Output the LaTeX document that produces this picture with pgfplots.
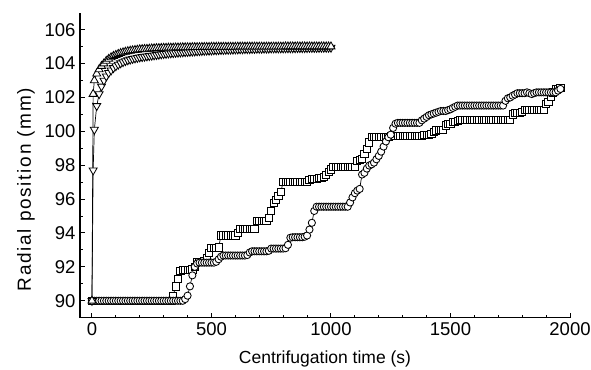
\documentclass[border=0pt]{standalone}
\usepackage{fontspec}
\setmainfont{Liberation Sans}
\newfontfamily\ylabfont[LetterSpace=9]{Liberation Sans}
\usepackage{pgfplots}
\pgfplotsset{compat=1.18}
\begin{document}
\begin{tikzpicture}
\begin{axis}[
  name=ax,
  scale only axis, width=490pt, height=305pt,
  xmin=-50, xmax=2000, ymin=89, ymax=107,
  axis x line*=bottom, axis y line*=left,
  axis line style={line width=1.3pt, -},
  tick align=inside, major tick length=5pt, minor tick length=3pt,
  xtick={0,500,1000,1500,2000}, minor x tick num=4,
  ytick={90,92,...,106}, minor y tick num=1,
  every tick/.style={black, line width=1pt},
  tick label style={font=\fontsize{18.5}{21}\selectfont},
  yticklabel style={xshift=-1pt},
  xticklabel style={yshift=-1pt},
  /pgf/number format/assume math mode=true,
  /pgf/number format/set thousands separator={},
  xlabel={Centrifugation time (s)},
  xlabel style={font=\fontsize{17.5}{20}\selectfont, at={([yshift=-45.5pt]axis description cs:0.5,0)}, anchor=base},
  ylabel={\ylabfont Radial position (mm)},
  ylabel style={font=\fontsize{19}{22}\selectfont, at={([xshift=-49pt]axis description cs:0,0.42)}, anchor=base, rotate=0},
  every axis plot/.append style={black, line width=0.7pt},
]
% squares
\addplot[mark=square*, mark size=3.6pt, mark options={fill=white, line width=0.85pt}] coordinates {
(0,90)(10,90)(20,90)(30,90)(40,90)(50,90)(60,90)(70,90)(80,90)(90,90)(100,90)(110,90)(120,90)(130,90)(140,90)(150,90)(160,90)(170,90)(180,90)(190,90)(200,90)(210,90)(220,90)(230,90)(240,90)(250,90)(260,90)(270,90)(280,90)(290,90)(300,90)(310,90)(320,90)(330,90)
(340,90.3)(350,90.85)(360,91.3)(370,91.75)(380,91.8)(390,91.8)(400,91.8)(410,91.8)(420,91.85)(430,92.0)(440,92.3)(450,92.3)(460,92.3)(470,92.35)(480,92.5)(490,92.8)
(500,93.13)(510,93.13)(520,93.13)(530,93.15)(540,93.85)(550,93.85)(560,93.85)(570,93.85)(580,93.85)(590,93.85)(600,93.85)(610,94.0)
(620,94.22)(630,94.22)(640,94.22)(650,94.22)(660,94.22)(670,94.22)(680,94.22)(690,94.72)(700,94.72)(710,94.72)(720,94.72)(730,94.72)(740,94.89)
(750,95.3)(760,95.76)(770,95.95)(780,96.2)(790,96.4)(800,97.03)(810,97.03)(820,97.03)(830,97.03)(840,97.03)(850,97.03)(860,97.03)(870,97.03)(880,97.03)(890,97.03)(900,97.03)
(910,97.13)(920,97.17)(930,97.17)(940,97.17)(950,97.23)(960,97.23)(970,97.3)(980,97.42)(990,97.6)(1000,97.75)
(1010,97.9)(1020,97.9)(1030,97.9)(1040,97.9)(1050,97.9)(1060,97.9)(1070,97.9)(1080,97.9)(1090,97.9)(1100,97.9)
(1110,98.26)(1120,98.3)(1130,98.35)(1140,98.65)(1150,98.95)(1160,99.35)(1170,99.65)(1180,99.65)(1190,99.65)(1200,99.65)(1210,99.65)(1220,99.65)(1230,99.65)(1240,99.65)
(1250,99.75)(1260,99.75)(1270,99.75)(1280,99.75)(1290,99.75)(1300,99.75)(1310,99.75)(1320,99.75)(1330,99.75)(1340,99.75)(1350,99.75)(1360,99.75)(1370,99.75)(1380,99.75)
(1390,99.8)(1400,99.8)(1410,99.8)(1420,99.85)(1430,99.95)(1440,100.05)(1450,100.1)(1460,100.1)(1470,100.1)(1480,100.35)(1490,100.45)(1500,100.45)(1510,100.55)(1520,100.55)(1530,100.6)
(1540,100.68)(1550,100.68)(1560,100.68)(1570,100.68)(1580,100.68)(1590,100.68)(1600,100.68)(1610,100.68)(1620,100.68)(1630,100.68)(1640,100.68)(1650,100.68)(1660,100.68)(1670,100.68)(1680,100.68)(1690,100.68)(1700,100.68)(1710,100.68)(1720,100.68)(1730,100.68)(1740,100.68)(1750,100.68)
(1760,101.0)(1770,101.1)(1780,101.1)(1790,101.1)(1800,101.15)(1810,101.25)(1820,101.25)(1830,101.25)(1840,101.25)(1850,101.25)(1860,101.25)(1870,101.25)(1880,101.25)(1890,101.25)
(1900,101.6)(1910,101.75)(1920,102.05)(1930,102.3)(1940,102.5)(1950,102.5)(1960,102.55)
};
% circles
\addplot[mark=*, mark size=3.6pt, mark options={fill=white, line width=0.85pt}] coordinates {
(0,90)(10,90)(20,90)(30,90)(40,90)(50,90)(60,90)(70,90)(80,90)(90,90)(100,90)(110,90)(120,90)(130,90)(140,90)(150,90)(160,90)(170,90)(180,90)(190,90)(200,90)(210,90)(220,90)(230,90)(240,90)(250,90)(260,90)(270,90)(280,90)(290,90)(300,90)(310,90)(320,90)(330,90)(340,90)(350,90)(360,90)(370,90)(380,90)
(390,90.1)(400,90.3)(410,90.85)(420,91.5)(430,92.0)(440,92.2)(450,92.25)(460,92.25)(470,92.25)(480,92.25)(490,92.25)(500,92.25)(510,92.25)(520,92.3)(530,92.45)(540,92.6)
(550,92.67)(560,92.67)(570,92.67)(580,92.67)(590,92.67)(600,92.67)(610,92.67)(620,92.67)(630,92.67)(640,92.67)(650,92.7)(660,92.85)
(670,92.92)(680,92.92)(690,92.92)(700,92.92)(710,92.92)(720,92.92)(730,92.92)(740,92.95)(750,93.08)(760,93.08)(770,93.08)(780,93.08)(790,93.08)(800,93.08)(810,93.1)(820,93.3)
(830,93.72)(840,93.75)(850,93.75)(860,93.75)(870,93.75)(880,93.75)(890,93.78)(900,93.85)(910,94.2)(920,94.6)(930,95.3)
(940,95.55)(950,95.55)(960,95.55)(970,95.55)(980,95.55)(990,95.55)(1000,95.55)(1010,95.55)(1020,95.55)(1030,95.55)(1040,95.55)(1050,95.55)(1060,95.55)(1070,95.55)
(1080,95.8)(1090,96.1)(1100,96.35)(1110,96.5)(1120,96.6)(1130,97.45)(1140,97.55)(1150,97.8)(1160,97.98)(1170,98.05)(1180,98.15)(1190,98.35)(1200,98.55)(1210,98.8)(1220,99.1)(1230,99.4)(1240,99.65)(1250,99.8)(1260,100.2)(1270,100.45)
(1280,100.5)(1290,100.5)(1300,100.5)(1310,100.5)(1320,100.5)(1330,100.5)(1340,100.5)(1350,100.5)(1360,100.5)(1370,100.5)
(1380,100.65)(1390,100.75)(1400,100.85)(1410,100.95)(1420,101.0)(1430,101.05)(1440,101.1)(1450,101.15)(1460,101.2)(1470,101.2)(1480,101.2)(1490,101.25)(1500,101.3)(1510,101.38)(1520,101.45)
(1530,101.52)(1540,101.52)(1550,101.52)(1560,101.52)(1570,101.52)(1580,101.52)(1590,101.52)(1600,101.52)(1610,101.52)(1620,101.52)(1630,101.52)(1640,101.52)(1650,101.52)(1660,101.52)(1670,101.52)(1680,101.52)(1690,101.52)(1700,101.52)(1710,101.52)(1720,101.52)
(1730,101.8)(1740,101.95)(1750,102.0)(1760,102.1)(1770,102.17)(1780,102.25)(1790,102.25)(1800,102.25)(1810,102.25)(1820,102.3)(1830,102.25)(1840,102.2)(1850,102.25)
(1860,102.3)(1870,102.3)(1880,102.3)(1890,102.3)(1900,102.3)(1910,102.3)(1920,102.3)(1930,102.3)(1940,102.3)(1950,102.4)(1960,102.5)
};
% down triangles
\addplot[mark=triangle*, mark size=4.6pt, mark options={fill=white, line width=0.85pt, rotate=180}] coordinates {
(0,90)(5,97.7)(10,100.1)(20,101.5)(30,102.2)(40,102.65)(50,103.0)(60,103.25)(70,103.45)(80,103.6)(90,103.74)(100,103.85)(110,103.94)(120,104.02)(130,104.09)(140,104.15)(150,104.2)(160,104.24)(170,104.28)(180,104.31)(190,104.34)(200,104.37)
(210,104.39)(220,104.41)(230,104.43)(240,104.45)(250,104.47)(260,104.49)(270,104.51)(280,104.53)(290,104.55)(300,104.57)(310,104.58)(320,104.6)(330,104.61)(340,104.62)(350,104.64)(360,104.65)(370,104.66)(380,104.67)(390,104.68)(400,104.69)
(410,104.7)(420,104.71)(430,104.72)(440,104.73)(450,104.74)(460,104.75)(470,104.76)(480,104.77)(490,104.77)(500,104.78)(510,104.79)(520,104.79)(530,104.8)(540,104.81)(550,104.81)(560,104.82)(570,104.82)(580,104.83)(590,104.83)(600,104.84)
(610,104.84)(620,104.85)(630,104.85)(640,104.86)(650,104.86)(660,104.86)(670,104.87)(680,104.87)(690,104.88)(700,104.88)(710,104.88)(720,104.89)(730,104.89)(740,104.89)(750,104.9)(760,104.9)(770,104.9)(780,104.9)(790,104.9)(800,104.9)
(810,104.91)(820,104.91)(830,104.91)(840,104.91)(850,104.91)(860,104.92)(870,104.92)(880,104.92)(890,104.92)(900,104.92)(910,104.93)(920,104.93)(930,104.93)(940,104.93)(950,104.93)(960,104.94)(970,104.94)(980,104.94)(990,104.94)(1000,104.94)
};
% up triangles
\addplot[mark=triangle*, mark size=4.6pt, mark options={fill=white, line width=0.85pt}] coordinates {
(0,90)(5,102.2)(10,103.0)(20,103.4)(30,103.65)(40,103.85)(50,104.0)(60,104.15)(70,104.27)(80,104.36)(90,104.44)(100,104.5)(110,104.56)(120,104.61)(130,104.65)(140,104.69)(150,104.72)(160,104.75)(170,104.77)(180,104.79)(190,104.81)(200,104.83)
(210,104.84)(220,104.85)(230,104.86)(240,104.87)(250,104.88)(260,104.89)(270,104.9)(280,104.9)(290,104.91)(300,104.92)(310,104.92)(320,104.93)(330,104.93)(340,104.93)(350,104.94)(360,104.94)(370,104.94)(380,104.95)(390,104.95)(400,104.95)
(410,104.95)(420,104.96)(430,104.96)(440,104.96)(450,104.96)(460,104.97)(470,104.97)(480,104.97)(490,104.97)(500,104.98)(510,104.98)(520,104.98)(530,104.98)(540,104.98)(550,104.98)(560,104.98)(570,104.98)(580,104.98)(590,104.98)(600,104.98)
(610,104.99)(620,104.99)(630,104.99)(640,104.99)(650,104.99)(660,104.99)(670,104.99)(680,104.99)(690,104.99)(700,104.99)(710,104.99)(720,104.99)(730,104.99)(740,104.99)(750,104.99)(760,104.99)(770,104.99)(780,104.99)(790,104.99)(800,104.99)
(810,105.0)(820,105.0)(830,105.0)(840,105.0)(850,105.0)(860,105.0)(870,105.0)(880,105.0)(890,105.0)(900,105.0)(910,105.0)(920,105.0)(930,105.0)(940,105.0)(950,105.0)(960,105.0)(970,105.0)(980,105.0)(990,105.0)(1000,105.0)
};
\end{axis}
\pgfresetboundingbox
\path ([xshift=-80pt,yshift=-52pt]ax.south west) rectangle ([xshift=21pt,yshift=12.7pt]ax.north east);
\end{tikzpicture}
\end{document}
